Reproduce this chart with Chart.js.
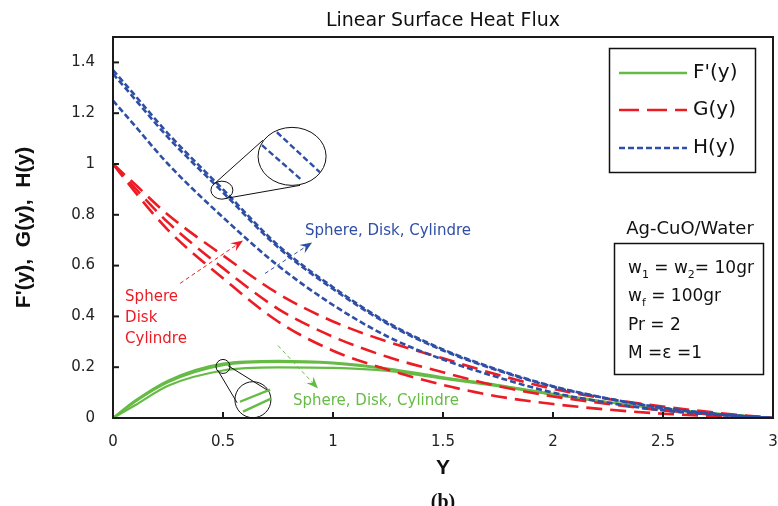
<!DOCTYPE html>
<html>
<head>
<meta charset="utf-8">
<script src="https://cdn.jsdelivr.net/npm/chart.js@4.4.1/dist/chart.umd.min.js"></script>
<style>
html, body { margin: 0; padding: 0; background: #fff; }
</style>
</head>
<body>
<canvas id="chart" width="778" height="506"></canvas>
<script>
// y positions (x axis of the plot)
const yPos = [0, 0.1, 0.25, 0.5, 0.75, 1, 1.25, 1.5, 1.75, 2, 2.25, 2.5, 2.75, 3];

// F'(y) - sphere, disk, cylinder
const fSphere = [0, 0.068, 0.147, 0.214, 0.225, 0.218, 0.195, 0.16, 0.13, 0.095, 0.063, 0.037, 0.016, 0];
const fDisk   = [0, 0.064, 0.141, 0.208, 0.221, 0.215, 0.192, 0.158, 0.128, 0.093, 0.062, 0.036, 0.016, 0];
const fCyl    = [0, 0.05, 0.127, 0.187, 0.199, 0.197, 0.185, 0.155, 0.125, 0.092, 0.062, 0.036, 0.016, 0];

// G(y)
const gSphere = [1.0, 0.92, 0.80, 0.64, 0.49, 0.38, 0.30, 0.235, 0.17, 0.115, 0.075, 0.045, 0.02, 0];
const gDisk   = [1.0, 0.905, 0.77, 0.59, 0.43, 0.32, 0.24, 0.18, 0.125, 0.085, 0.055, 0.03, 0.013, 0];
const gCyl    = [1.0, 0.89, 0.74, 0.55, 0.38, 0.265, 0.19, 0.13, 0.085, 0.055, 0.033, 0.017, 0.007, 0];

// H(y)
const hSphere = [1.37, 1.27, 1.12, 0.90, 0.68, 0.515, 0.375, 0.27, 0.19, 0.125, 0.077, 0.04, 0.015, 0];
const hDisk   = [1.355, 1.255, 1.105, 0.888, 0.672, 0.508, 0.37, 0.266, 0.187, 0.123, 0.076, 0.039, 0.015, 0];
const hCyl    = [1.25, 1.15, 1.0, 0.79, 0.60, 0.445, 0.32, 0.23, 0.16, 0.10, 0.06, 0.03, 0.012, 0];

const xTicks = [0, 0.5, 1, 1.5, 2, 2.5, 3];
const yTicks = [0, 0.2, 0.4, 0.6, 0.8, 1, 1.2, 1.4];

const colors = {
    green: '#66bb46',
    red: '#ec1c24',
    blue: '#2f4fa6'
};
const comic = '"Comic Sans MS", "DejaVu Sans", sans-serif';

function pts(vals) {
    return vals.map((v, i) => ({ x: yPos[i], y: v }));
}

function hLine(vals) {
    return { data: pts(vals), borderColor: colors.blue, borderWidth: 2.6, borderDash: [6, 3] };
}
function gLine(vals) {
    return { data: pts(vals), borderColor: colors.red, borderWidth: 2.6, borderDash: [16, 8] };
}
function fLine(vals) {
    return { data: pts(vals), borderColor: colors.green, borderWidth: 2.2 };
}

// arrow helper: thin dashed shaft, filled head
function arrow(ctx, x1, y1, x2, y2, color) {
    ctx.save();
    ctx.strokeStyle = color;
    ctx.fillStyle = color;
    ctx.lineWidth = 1;
    ctx.setLineDash([4, 3]);
    const ang = Math.atan2(y2 - y1, x2 - x1);
    const len = 13;
    ctx.beginPath();
    ctx.moveTo(x1, y1);
    ctx.lineTo(x2 - Math.cos(ang) * len * 0.6, y2 - Math.sin(ang) * len * 0.6);
    ctx.stroke();
    ctx.setLineDash([]);
    ctx.beginPath();
    ctx.moveTo(x2, y2);
    ctx.lineTo(x2 - len * Math.cos(ang - 0.38), y2 - len * Math.sin(ang - 0.38));
    ctx.lineTo(x2 - len * 0.6 * Math.cos(ang), y2 - len * 0.6 * Math.sin(ang));
    ctx.lineTo(x2 - len * Math.cos(ang + 0.38), y2 - len * Math.sin(ang + 0.38));
    ctx.closePath();
    ctx.fill();
    ctx.restore();
}

function seg(ctx, a, b) {
    ctx.beginPath();
    ctx.moveTo(a[0], a[1]);
    ctx.lineTo(b[0], b[1]);
    ctx.stroke();
}

const overlay = {
    id: 'overlay',
    afterDraw(chart) {
        const ctx = chart.ctx;
        const xs = chart.scales.x, ys = chart.scales.y;
        const a = chart.chartArea;
        const P = (x, y) => [xs.getPixelForValue(x), ys.getPixelForValue(y)];
        ctx.save();

        // frame and inward ticks
        ctx.strokeStyle = '#1a1a1a';
        ctx.lineWidth = 2;
        ctx.strokeRect(a.left, a.top, a.right - a.left, a.bottom - a.top);
        xTicks.forEach(t => {
            const px = xs.getPixelForValue(t);
            seg(ctx, [px, a.bottom], [px, a.bottom - 6]);
        });
        yTicks.forEach(t => {
            const py = ys.getPixelForValue(t);
            seg(ctx, [a.left, py], [a.left + 6, py]);
        });

        // title
        ctx.fillStyle = '#111';
        ctx.font = '19px ' + comic;
        ctx.textAlign = 'center';
        ctx.textBaseline = 'middle';
        ctx.fillText('Linear Surface Heat Flux', (a.left + a.right) / 2, 21);

        // (b)
        ctx.font = 'bold 20px "Liberation Serif", serif';
        ctx.fillText('(b)', (a.left + a.right) / 2, 503);

        // legend box
        ctx.lineWidth = 1.5;
        ctx.strokeStyle = '#111';
        ctx.strokeRect(609.5, 48.5, 146, 124);
        const legendItems = [
            { label: "F'(y)", color: colors.green, dash: [], y: 73 },
            { label: 'G(y)', color: colors.red, dash: [20, 8], y: 110 },
            { label: 'H(y)', color: colors.blue, dash: [6, 3], y: 148 }
        ];
        ctx.textAlign = 'left';
        ctx.font = '20px ' + comic;
        legendItems.forEach(it => {
            ctx.save();
            ctx.strokeStyle = it.color;
            ctx.lineWidth = 2.6;
            ctx.setLineDash(it.dash);
            seg(ctx, [619, it.y], [687, it.y]);
            ctx.restore();
            ctx.fillStyle = '#111';
            ctx.fillText(it.label, 693, it.y);
        });

        // parameter box
        ctx.font = '18px ' + comic;
        ctx.textAlign = 'center';
        ctx.fillText('Ag-CuO/Water', 690, 229);
        ctx.strokeRect(614.5, 243.5, 149, 131);
        ctx.textAlign = 'left';
        const rich = (parts, x, y) => {
            parts.forEach(p => {
                if (p.sub) {
                    ctx.font = '11px ' + comic;
                    ctx.fillText(p.t, x, y + 6);
                } else {
                    ctx.font = '17px ' + comic;
                    ctx.fillText(p.t, x, y);
                }
                x += ctx.measureText(p.t).width;
            });
        };
        rich([{ t: 'w' }, { t: '1', sub: true }, { t: ' = w' }, { t: '2', sub: true }, { t: '= 10gr' }], 628, 269);
        rich([{ t: 'w' }, { t: 'f', sub: true }, { t: ' = 100gr' }], 628, 297);
        rich([{ t: 'Pr = 2' }], 628, 326);
        rich([{ t: 'M =\u03b5 =1' }], 628, 354);

        // labels for the three geometries
        ctx.font = '15px ' + comic;
        ctx.fillStyle = colors.blue;
        let p = P(0.873, 0.734);
        ctx.fillText('Sphere, Disk, Cylindre', p[0], p[1]);
        ctx.fillStyle = colors.green;
        p = P(0.818, 0.068);
        ctx.fillText('Sphere, Disk, Cylindre', p[0], p[1]);
        ctx.fillStyle = colors.red;
        ['Sphere', 'Disk', 'Cylindre'].forEach((s, i) => {
            const q = P(0.055, [0.475, 0.392, 0.309][i]);
            ctx.fillText(s, q[0], q[1]);
        });

        // arrows
        let s = P(0.305, 0.53), e = P(0.591, 0.699);
        arrow(ctx, s[0], s[1], e[0], e[1], colors.red);
        s = P(0.691, 0.569); e = P(0.905, 0.691);
        arrow(ctx, s[0], s[1], e[0], e[1], colors.blue);
        s = P(0.75, 0.285); e = P(0.932, 0.116);
        arrow(ctx, s[0], s[1], e[0], e[1], colors.green);

        // zoom callout on H(y)
        ctx.strokeStyle = '#111';
        ctx.lineWidth = 1;
        ctx.setLineDash([]);
        let c = P(0.495, 0.897);
        ctx.beginPath(); ctx.ellipse(c[0], c[1], 11, 9, 0, 0, Math.PI * 2); ctx.stroke();
        c = P(0.814, 1.03);
        ctx.beginPath(); ctx.ellipse(c[0], c[1], 34, 29, 0, 0, Math.PI * 2); ctx.stroke();
        seg(ctx, P(0.464, 0.925), P(0.682, 1.094));
        seg(ctx, P(0.509, 0.864), P(0.85, 0.916));
        ctx.strokeStyle = colors.blue;
        ctx.lineWidth = 2.4;
        ctx.setLineDash([6, 3]);
        seg(ctx, P(0.745, 1.125), P(0.941, 0.967));
        seg(ctx, P(0.677, 1.074), P(0.859, 0.936));

        // zoom callout on F'(y)
        ctx.setLineDash([]);
        ctx.strokeStyle = '#111';
        ctx.lineWidth = 1;
        c = P(0.5, 0.203);
        ctx.beginPath(); ctx.arc(c[0], c[1], 7, 0, Math.PI * 2); ctx.stroke();
        c = P(0.636, 0.072);
        ctx.beginPath(); ctx.arc(c[0], c[1], 18, 0, Math.PI * 2); ctx.stroke();
        seg(ctx, P(0.477, 0.187), P(0.564, 0.06));
        seg(ctx, P(0.523, 0.206), P(0.705, 0.108));
        ctx.strokeStyle = colors.green;
        ctx.lineWidth = 2.4;
        seg(ctx, P(0.577, 0.064), P(0.714, 0.112));
        seg(ctx, P(0.591, 0.025), P(0.718, 0.076));

        ctx.restore();
    }
};

new Chart(document.getElementById('chart').getContext('2d'), {
    type: 'line',
    data: {
        datasets: [
            hLine(hSphere), hLine(hDisk), hLine(hCyl),
            gLine(gSphere), gLine(gDisk), gLine(gCyl),
            fLine(fSphere), fLine(fDisk), fLine(fCyl)
        ]
    },
    options: {
        responsive: false,
        animation: false,
        devicePixelRatio: 1,
        layout: { padding: { top: 37, right: 5, left: 0, bottom: 0 } },
        elements: {
            point: { radius: 0 },
            line: { cubicInterpolationMode: 'monotone', fill: false }
        },
        plugins: {
            legend: { display: false },
            tooltip: { enabled: false }
        },
        scales: {
            x: {
                type: 'linear',
                min: 0,
                max: 3,
                afterFit: s => { s.height = 88; s.paddingLeft = 0; s.paddingRight = 0; },
                afterBuildTicks: s => { s.ticks = xTicks.map(v => ({ value: v })); },
                grid: { display: false, drawTicks: false },
                border: { display: false },
                ticks: {
                    padding: 15,
                    color: '#222',
                    font: { family: '"DejaVu Sans", sans-serif', size: 15 },
                    callback: v => String(+v.toFixed(1))
                },
                title: {
                    display: true,
                    text: 'Y',
                    color: '#111',
                    font: { family: '"Liberation Sans", sans-serif', size: 21, weight: 'bold' },
                    padding: { top: 0, bottom: 25 }
                }
            },
            y: {
                min: 0,
                max: 1.5,
                afterFit: s => { s.width = 113; s.paddingTop = 0; s.paddingBottom = 0; },
                afterBuildTicks: s => { s.ticks = yTicks.map(v => ({ value: v })); },
                grid: { display: false, drawTicks: false },
                border: { display: false },
                ticks: {
                    padding: 18,
                    color: '#222',
                    font: { family: '"DejaVu Sans", sans-serif', size: 15 },
                    callback: v => String(+v.toFixed(1))
                },
                title: {
                    display: true,
                    text: "F'(y),  G(y),  H(y)",
                    color: '#111',
                    font: { family: '"Liberation Sans", sans-serif', size: 21, weight: 'bold' },
                    padding: { top: 12, bottom: 0 }
                }
            }
        }
    },
    plugins: [overlay]
});
</script>
</body>
</html>
